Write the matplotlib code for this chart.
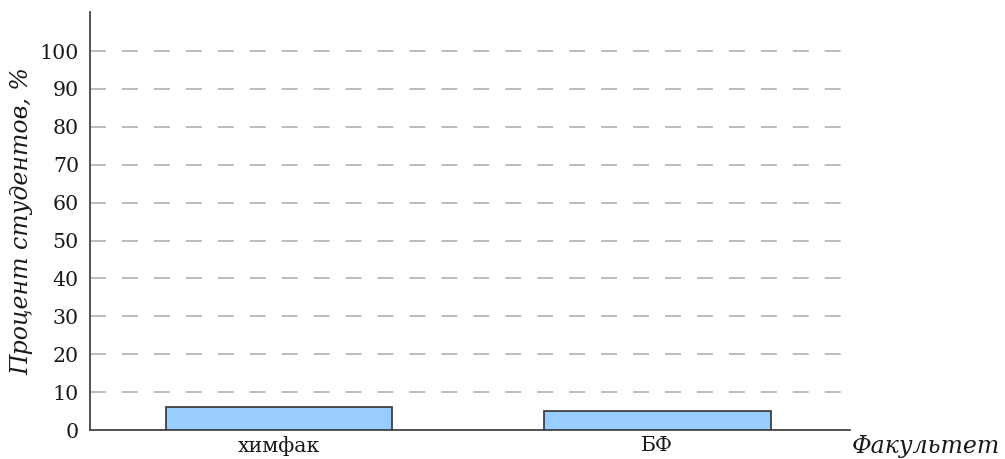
import numpy as np
import matplotlib.pyplot as plt

plt.rcParams['font.family'] = 'DejaVu Serif'
plt.rcParams['lines.scale_dashes'] = False

faculties = ['химфак', 'БФ']
percent = [6, 5]
yticks = np.arange(0, 101, 10)

fig = plt.figure(figsize=(10.05, 4.59), dpi=100)
ax = fig.add_axes([90 / 1005, 29 / 459, 760 / 1005, 418 / 459])

x = np.arange(len(faculties))
ax.bar(x, percent, width=0.6, color='#99ccff', edgecolor='#333333', linewidth=1.2, zorder=3)

for t in yticks[1:]:
    ax.axhline(t, xmin=0, xmax=(843 - 90) / 760, color='#aaaaaa', linewidth=1.1,
               dashes=(11.5, 11.5), zorder=1)

ax.set_xlim(-0.5, 1.51)
ax.set_ylim(0, 110.3)
ax.set_xticks(x)
ax.set_xticklabels(faculties)
ax.set_yticks(yticks)
ax.tick_params(axis='both', length=0, labelsize=14.8, colors='#1a1a1a')
ax.tick_params(axis='y', pad=8)
ax.tick_params(axis='x', pad=4)

for side in ['top', 'right']:
    ax.spines[side].set_visible(False)
for side in ['left', 'bottom']:
    ax.spines[side].set_color('#444444')
    ax.spines[side].set_linewidth(1.3)

fig.text(22 / 1005, 1 - 221 / 459, 'Процент студентов, %', rotation=90,
         ha='center', va='center', fontsize=17, style='italic', color='#1a1a1a')
fig.text(852 / 1005, 1 - 446 / 459, 'Факультет', ha='left', va='center',
         fontsize=17, style='italic', color='#1a1a1a')

fig.savefig('out.png', dpi=100)
